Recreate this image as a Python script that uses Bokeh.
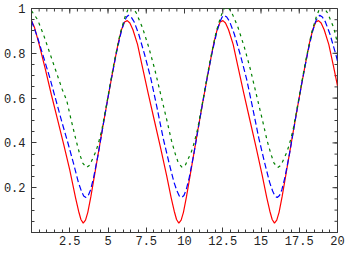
import math
from bokeh.plotting import figure
from bokeh.models import Range1d, FixedTicker
from bokeh.embed import file_html
from bokeh.resources import INLINE

# ---- data ----
red_x = [0.0, 0.2, 0.5, 0.9, 1.3, 1.7, 2.1, 2.5, 2.88, 3.08, 3.23, 3.38, 3.53, 3.68, 3.88, 4.18, 4.58, 4.98, 5.38, 5.68, 5.88, 6.08,
         6.26, 6.43, 6.63, 6.93, 7.23, 7.63, 8.03, 8.43, 8.83, 9.13, 9.33, 9.48, 9.63, 9.78, 9.93, 10.13, 10.43, 10.83, 11.23, 11.63, 11.93, 12.13, 12.33,
         12.51, 12.68, 12.88, 13.18, 13.48, 13.88, 14.28, 14.68, 15.08, 15.38, 15.58, 15.73, 15.88, 16.03, 16.18, 16.38, 16.68, 17.08, 17.48, 17.88, 18.18, 18.38, 18.58,
         18.76, 18.93, 19.13, 19.43, 19.73, 20.0]
red_y = [0.945, 0.915, 0.84, 0.73, 0.615, 0.505, 0.395, 0.28, 0.155, 0.095, 0.058, 0.042, 0.055, 0.09, 0.16, 0.28, 0.44, 0.595, 0.745, 0.85, 0.905, 0.94,
         0.946, 0.935, 0.905, 0.84, 0.745, 0.62, 0.50, 0.38, 0.255, 0.155, 0.095, 0.058, 0.042, 0.055, 0.09, 0.16, 0.28, 0.44, 0.595, 0.745, 0.85, 0.905, 0.94,
         0.946, 0.935, 0.905, 0.84, 0.745, 0.62, 0.50, 0.38, 0.255, 0.155, 0.095, 0.058, 0.042, 0.055, 0.09, 0.16, 0.28, 0.44, 0.595, 0.745, 0.85, 0.905, 0.94,
         0.946, 0.935, 0.905, 0.84, 0.745, 0.655]

blue_x = [0.0, 0.4, 0.8, 1.2, 1.6, 2.0, 2.4, 2.76, 3.06, 3.26, 3.41, 3.56, 3.71, 3.86, 4.06, 4.36, 4.76, 5.16, 5.56, 5.86, 6.06, 6.21,
          6.34, 6.51, 6.71, 7.01, 7.41, 7.81, 8.21, 8.61, 9.01, 9.31, 9.51, 9.66, 9.81, 9.96, 10.11, 10.31, 10.61, 11.01, 11.41, 11.81, 12.11, 12.31, 12.46,
          12.59, 12.76, 12.96, 13.26, 13.66, 14.06, 14.46, 14.86, 15.26, 15.56, 15.76, 15.91, 16.06, 16.21, 16.36, 16.56, 16.86, 17.26, 17.66, 18.06, 18.36, 18.56, 18.71,
          18.84, 19.01, 19.21, 19.51, 19.91, 20.0]
blue_y = [0.945, 0.87, 0.78, 0.69, 0.59, 0.49, 0.395, 0.305, 0.225, 0.185, 0.163, 0.156, 0.165, 0.19, 0.245, 0.35, 0.51, 0.665, 0.805, 0.895, 0.94, 0.962,
          0.970, 0.962, 0.94, 0.885, 0.79, 0.685, 0.555, 0.42, 0.305, 0.225, 0.185, 0.163, 0.156, 0.165, 0.19, 0.245, 0.35, 0.51, 0.665, 0.805, 0.895, 0.94, 0.962,
          0.970, 0.962, 0.94, 0.885, 0.79, 0.685, 0.555, 0.42, 0.305, 0.225, 0.185, 0.163, 0.156, 0.165, 0.19, 0.245, 0.35, 0.51, 0.665, 0.805, 0.895, 0.94, 0.962,
          0.970, 0.962, 0.94, 0.885, 0.79, 0.765]

green_x = [0.0, 0.4, 0.8, 1.2, 1.6, 2.0, 2.3, 2.6, 2.9, 3.15, 3.35, 3.6, 3.8, 4.0, 4.2, 4.4, 4.6, 4.98, 5.4, 5.8, 6.1, 6.3,
           6.45, 6.65, 6.85, 7.25, 7.65, 8.05, 8.45, 8.85, 9.15, 9.4, 9.6, 9.85, 10.05, 10.25, 10.45, 10.65, 10.85, 11.23, 11.65, 12.05, 12.35, 12.55,
           12.70, 12.90, 13.10, 13.50, 13.90, 14.30, 14.70, 15.10, 15.40, 15.65, 15.85, 16.10, 16.30, 16.50, 16.70, 16.90, 17.10, 17.48, 17.90, 18.30, 18.60, 18.80,
           18.95, 19.15, 19.35, 19.75, 20.0]
green_y = [0.99, 0.95, 0.88, 0.80, 0.72, 0.64, 0.59, 0.5, 0.415, 0.35, 0.31, 0.29, 0.3, 0.33, 0.36, 0.405, 0.46, 0.6, 0.76, 0.89, 0.96, 0.995,
           1.01, 1.0, 0.98, 0.915, 0.83, 0.73, 0.615, 0.5, 0.41, 0.35, 0.31, 0.29, 0.3, 0.33, 0.36, 0.405, 0.46, 0.6, 0.76, 0.89, 0.96, 0.995,
           1.01, 1.0, 0.98, 0.915, 0.83, 0.73, 0.615, 0.5, 0.41, 0.35, 0.31, 0.29, 0.3, 0.33, 0.36, 0.405, 0.46, 0.6, 0.76, 0.89, 0.96, 0.995,
           1.01, 1.0, 0.98, 0.915, 0.845]

x_ticks = [2.5, 5, 7.5, 10, 12.5, 15, 17.5, 20]
x_tick_labels = ["2.5", "5", "7.5", "10", "12.5", "15", "17.5", "20"]
y_ticks = [0.2, 0.4, 0.6, 0.8, 1.0]
y_tick_labels = ["0.2", "0.4", "0.6", "0.8", "1"]
x_minor = [i * 0.5 for i in range(41)]
y_minor = [i * 0.05 for i in range(21)]
X0, X1, Y0, Y1 = 0, 20, 0, 1

FONT = "Liberation Mono"
FRAME = "#3a3a3a"

p = figure(width=345, height=254, output_backend="svg", toolbar_location=None,
           x_range=Range1d(X0, X1), y_range=Range1d(Y0, Y1),
           min_border_left=30, min_border_right=8, min_border_top=8, min_border_bottom=22)
p.grid.visible = False
p.outline_line_color = FRAME
p.outline_line_width = 1
p.background_fill_color = "white"
p.border_fill_color = "white"

def style_axis(ax, ticks, minor, labels):
    ax.ticker = FixedTicker(ticks=ticks, minor_ticks=minor)
    ax.axis_line_color = FRAME
    ax.major_tick_line_color = FRAME
    ax.minor_tick_line_color = FRAME
    ax.major_tick_in = 5
    ax.major_tick_out = 0
    ax.minor_tick_in = 3
    ax.minor_tick_out = 0
    ax.major_label_overrides = {t: l for t, l in zip(ticks, labels)}
    ax.major_label_text_font = FONT
    ax.major_label_text_font_size = "12px"
    ax.major_label_text_color = "#222222"

style_axis(p.xaxis[0], x_ticks, x_minor, x_tick_labels)
p.xaxis[0].major_label_standoff = 3
style_axis(p.yaxis[0], y_ticks, y_minor, y_tick_labels)
p.yaxis[0].major_label_standoff = 6

# mirrored inward ticks on the top and right frame edges
p.ray(x=x_ticks, y=[Y1] * len(x_ticks), length=5, angle=-math.pi / 2,
      length_units="screen", line_color=FRAME, line_width=1)
p.ray(x=x_minor, y=[Y1] * len(x_minor), length=3, angle=-math.pi / 2,
      length_units="screen", line_color=FRAME, line_width=1)
p.ray(x=[X1] * len(y_ticks), y=y_ticks, length=5, angle=math.pi,
      length_units="screen", line_color=FRAME, line_width=1)
p.ray(x=[X1] * len(y_minor), y=y_minor, length=3, angle=math.pi,
      length_units="screen", line_color=FRAME, line_width=1)

p.line(red_x, red_y, line_color="#ff0000", line_width=1.2)
p.line(blue_x, blue_y, line_color="#0000ff", line_width=1.2, line_dash="6 3")
p.line(green_x, green_y, line_color="#008000", line_width=1.2, line_dash="3 4")

open("out.html", "w").write(file_html(p, INLINE))
